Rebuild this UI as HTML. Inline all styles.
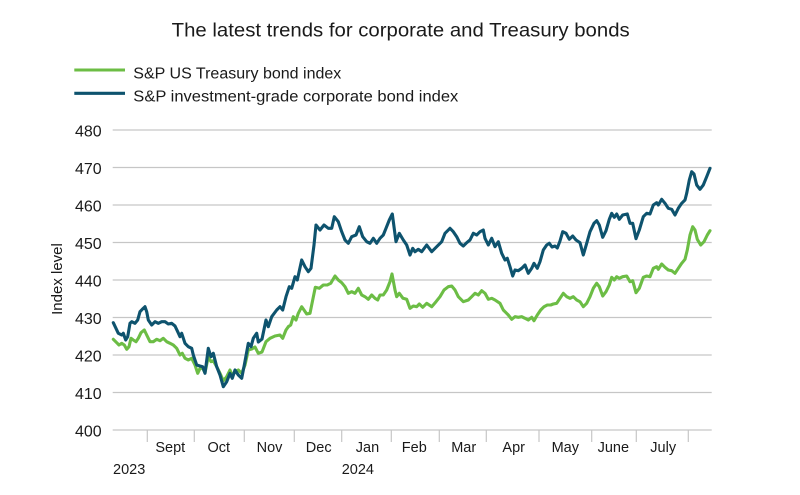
<!DOCTYPE html>
<html><head><meta charset="utf-8"><style>
html,body{margin:0;padding:0;background:#fff;}
svg{display:block;}
text{font-family:"Liberation Sans",sans-serif;fill:#1a1a1a;}
</style></head><body>
<svg width="800" height="495" viewBox="0 0 800 495" xmlns="http://www.w3.org/2000/svg">
<rect width="800" height="495" fill="#fff"/>
<text x="171.7" y="36.7" font-size="19.5" textLength="458" lengthAdjust="spacingAndGlyphs">The latest trends for corporate and Treasury bonds</text>
<line x1="74.3" y1="70" x2="125" y2="70" stroke="#6cbd45" stroke-width="3.1"/>
<line x1="74.3" y1="93.3" x2="125" y2="93.3" stroke="#0e536e" stroke-width="3.1"/>
<text x="133.3" y="78.3" font-size="15.5" textLength="208" lengthAdjust="spacingAndGlyphs">S&amp;P US Treasury bond index</text>
<text x="133.3" y="101.3" font-size="15.5" textLength="325" lengthAdjust="spacingAndGlyphs">S&amp;P investment-grade corporate bond index</text>
<g stroke="#c6c6c6" stroke-width="1.2">
<line x1="112.7" y1="130" x2="711.7" y2="130"/>
<line x1="112.7" y1="167.5" x2="711.7" y2="167.5"/>
<line x1="112.7" y1="205" x2="711.7" y2="205"/>
<line x1="112.7" y1="242.5" x2="711.7" y2="242.5"/>
<line x1="112.7" y1="280" x2="711.7" y2="280"/>
<line x1="112.7" y1="317.5" x2="711.7" y2="317.5"/>
<line x1="112.7" y1="355" x2="711.7" y2="355"/>
<line x1="112.7" y1="392.5" x2="711.7" y2="392.5"/>
<line x1="112.7" y1="430" x2="711.7" y2="430"/>
<line x1="147.3" y1="430" x2="147.3" y2="442"/>
<line x1="194.3" y1="430" x2="194.3" y2="442"/>
<line x1="244.3" y1="430" x2="244.3" y2="442"/>
<line x1="294.3" y1="430" x2="294.3" y2="442"/>
<line x1="341.7" y1="430" x2="341.7" y2="442"/>
<line x1="391.3" y1="430" x2="391.3" y2="442"/>
<line x1="439.3" y1="430" x2="439.3" y2="442"/>
<line x1="486.3" y1="430" x2="486.3" y2="442"/>
<line x1="539" y1="430" x2="539" y2="442"/>
<line x1="591.7" y1="430" x2="591.7" y2="442"/>
<line x1="636.3" y1="430" x2="636.3" y2="442"/>
<line x1="688.3" y1="430" x2="688.3" y2="442"/>
</g>
<g font-size="16" text-anchor="end">
<text x="101.7" y="136.5">480</text>
<text x="101.7" y="174">470</text>
<text x="101.7" y="211.5">460</text>
<text x="101.7" y="249">450</text>
<text x="101.7" y="286.5">440</text>
<text x="101.7" y="324">430</text>
<text x="101.7" y="361.5">420</text>
<text x="101.7" y="399">410</text>
<text x="101.7" y="436.5">400</text>
</g>
<text transform="translate(62,279) rotate(-90)" font-size="15" text-anchor="middle">Index level</text>
<g font-size="14.5" text-anchor="middle">
<text x="170.3" y="452">Sept</text>
<text x="218.8" y="452">Oct</text>
<text x="269.5" y="452">Nov</text>
<text x="318.7" y="452">Dec</text>
<text x="367.5" y="452">Jan</text>
<text x="414.3" y="452">Feb</text>
<text x="463.7" y="452">Mar</text>
<text x="513.7" y="452">Apr</text>
<text x="565.3" y="452">May</text>
<text x="613.3" y="452">June</text>
<text x="663.2" y="452">July</text>
</g>
<text x="113" y="474" font-size="14.5">2023</text>
<text x="341.7" y="474" font-size="14.5">2024</text>
<polyline fill="none" stroke="#6cbd45" stroke-width="3.1" stroke-linejoin="round" stroke-linecap="round" points="113.3,339.3 116.7,342.7 119,345 121.7,343.3 124.3,345 126.7,349.3 129,346.7 131,338.3 133.3,340 136,341.7 138.3,338.3 141,332.7 144.3,330 146.7,335 150,341.7 153.3,341.7 156.7,339.3 160,340.7 163.3,338.3 166.7,341.7 170,343.3 173.3,345 176.7,348.3 180,355 182.3,353.3 185,358.3 188.3,360 191.7,358.3 195,365 197.7,373.3 200,368.3 202.7,368.3 205,372.7 208.3,356.7 211,361.7 213.3,360.7 216.7,366.7 220,373.3 223.3,380.7 226.7,376.7 230,370 232.3,376 235,371.7 238.3,370 241.7,373.3 245,365 248.3,350 251.7,349 255,347 258.3,353.3 262,352 266,341.7 270,338.3 275,336 280,335 282.7,338.3 286,330 288.3,326.7 290.7,325 293.3,316.7 296,320 298.3,313.3 301.7,306.7 304,310 306.7,314 310,313.3 312.7,300 315.3,287.3 319.3,288.3 323.3,285 327.3,285 330.7,283.3 335,276 338.3,280 341.7,282.7 345,286.7 348.3,293.3 351.7,291.7 355,293.3 358.3,288.3 361.7,295 365,296.7 368.3,299.3 371.7,295 375,298.3 377.7,300 380,295 383.3,295 386.7,290 390,281.7 392,274 395,290 396.7,296.7 399.3,293.3 403,298.3 406.7,299.3 410,308.3 413.3,306 416.7,306.7 419.3,304 422.7,307.3 426.7,303.3 431.7,306.7 436,301.7 440,296.7 444,290 448.3,286.7 451.7,286 455,290 458.3,296.7 463.3,301.7 468.3,300 471.7,296.7 475,293.3 478.3,295 481.7,290.7 485,293.3 488.3,299.3 491.7,298.3 495,300 500,303.3 503.3,310 506,312.7 508.3,315 511.7,319.3 515,316.7 518.3,317.3 521.7,316.7 525,318.3 528.3,320 531.7,317.3 534,320.7 537.3,315 540.7,310 544,306.7 547.3,305 550.7,305 553.3,304 556.7,303.3 560,298.3 563.3,293.3 566.7,296.7 570,298.3 573.3,296.7 576.7,300 580,301.7 583.3,306.7 586.7,303.3 590,296.7 593.3,288.3 596.7,283.3 599.3,286.7 602.7,296 606,291.7 609.3,285 611.7,277.3 614.3,280 616.7,276.7 619.3,278.3 622.7,276.7 626.7,276 630,281.7 632.7,280.7 636,292.7 639.3,288.3 643.3,277.3 646.7,276 650,276.7 653.3,268.3 656.7,266.7 658.3,269.3 661.7,264 665,267.3 668.3,270 671.7,270.7 675,273.3 678.3,268.3 681.7,263.3 685,259.3 687.3,250 690,235 692.7,226.7 695,230 697.3,239.3 700.7,245 704,241.7 707.3,235 710,230.7"/>
<polyline fill="none" stroke="#0e536e" stroke-width="3.1" stroke-linejoin="round" stroke-linecap="round" points="113.3,322.7 118.3,333.3 121.7,335 123.3,333.3 125.7,340 127.7,336.7 130,323.3 131.7,321.7 135,323.3 137.7,320 140,311.7 142.3,309.3 145,306.7 146.7,311.7 148.3,320 151.7,325 155,321.7 158.3,323.3 161.7,321.7 165,321.7 168.3,324 171.7,323.3 175,326 177.7,331.7 180,336.7 181.7,333.3 185,343.3 188.3,346.7 191.7,348.3 193.3,355 196.7,365 200,366 202.7,366.7 205,373.3 208.3,348.3 211,356.7 213.3,353.3 216.7,366.7 220,375 223.3,386.7 226.7,381.7 230,373.3 232.3,378.3 235,370 238.3,375 241.7,378.3 244.3,365 248.3,343.3 251,346.7 253.3,338.3 256.7,333.3 258.3,342 262,339 266,320 268.3,326.7 271.7,316.7 276.7,310 280,306.7 282.7,310 286,296.7 289.3,286.7 291.7,288.3 295,276.7 297.3,280 301.7,260 305,266.7 308.3,271.7 311,268.3 314,245 316,225 320,230 324,225 328.3,228.3 331.7,228.3 334.3,216.7 338.3,221.7 341.7,231.7 345,240 348.3,243.3 351.7,236.7 356,235 359.3,226.7 362.7,236.7 366.7,241.7 370,243.3 373.3,238.3 376.7,243.3 380,238.3 383.3,235 386,228.3 389.3,220 392.3,214 396,241.7 399.3,233.3 403.3,240 406.7,245 410,255 412.7,248.3 415,251.7 418.3,249.3 421.7,251.7 426.7,245 431.7,251.7 436.7,246.7 441.7,241.7 445,233.3 450,228.3 453.3,231.7 456.7,236.7 460,243.3 463.3,246 466.7,242.7 470,240 473.3,233.3 476.7,235 480,231.7 483.3,230 485,238.3 488.3,245 491.7,238.3 495,246.7 498.3,241.7 501.7,253.3 505,260 507.3,258.3 510,266.7 512.7,276 515,270 518.3,270.7 521.7,268.3 525,265 528.3,273.3 531.7,268.3 534,263.3 537.3,268.3 540,261.7 543.3,250 546.7,245 549.3,243.3 552,247 555,246 557.3,248 560,241 562.7,231.7 566,233.3 569.3,239.3 572.7,236 576,240 580,242.7 583.3,255 586.7,243.3 590,231.7 594,223.3 596.7,220.7 599.3,225 602.7,237.3 606,230.7 609.3,219.3 611.7,213.3 614.3,217.3 616.7,214 619.3,219.3 622.7,215 627.3,214 630,223.3 632.7,223.3 636,238.7 639.3,230 643.3,216.7 646.7,213.3 650,214 653.3,205 656.7,202.7 658.3,205 661.7,199.3 665,203.3 668.3,208.3 671.7,209.3 675,215 678.3,208.3 681.7,203.3 685,200 686.7,193.3 689.3,180 691.7,171.7 694,174 696.7,185 700,189.3 703.3,185 706.7,176.7 710,168.3"/>
</svg>
</body></html>
